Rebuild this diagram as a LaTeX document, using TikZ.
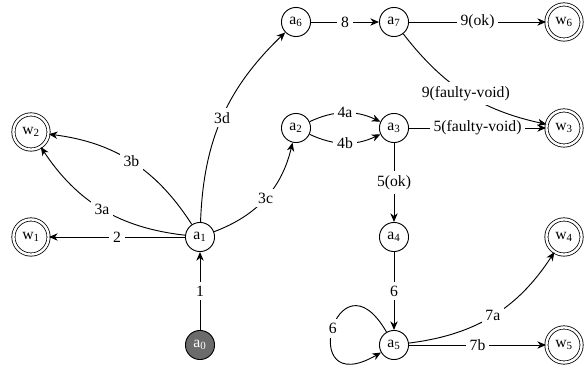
\documentclass[tikz,border=0pt]{standalone}
\usepackage{fontspec}
\setmainfont{Liberation Serif}
\usetikzlibrary{arrows.meta}

\begin{document}
\begin{tikzpicture}[every node/.style={font=\fontsize{11.8}{14}\selectfont},
  >={Stealth[length=6.5pt,width=5.5pt,inset=2pt]},
  line width=.7pt,
  st/.style={circle,draw,line width=.7pt,minimum size=.77cm,inner sep=0pt},
  start/.style={st,fill=black!58,text=white},
  goal/.style={circle,draw,double,double distance=1.8pt,line width=.6pt,minimum size=.93cm,inner sep=0pt},
  lbl/.style={fill=white,inner sep=3pt}]
\useasboundingbox (-5.2917,-0.5821) rectangle (10.2129,9.1281);
% states
\node[start] (a0) at (0.0000,0.0000) {a\textsubscript{0}};
\node[st] (a1) at (0.0000,2.8575) {a\textsubscript{1}};
\node[st] (a2) at (2.5400,5.7415) {a\textsubscript{2}};
\node[st] (a3) at (5.1329,5.7415) {a\textsubscript{3}};
\node[st] (a4) at (5.1329,2.8575) {a\textsubscript{4}};
\node[st] (a5) at (5.1329,0.0000) {a\textsubscript{5}};
\node[st] (a6) at (2.5400,8.5460) {a\textsubscript{6}};
\node[st] (a7) at (5.1329,8.5460) {a\textsubscript{7}};
% final states
\node[goal] (w1) at (-4.4715,2.8575) {w\textsubscript{1}};
\node[goal] (w2) at (-4.4715,5.6356) {w\textsubscript{2}};
\node[goal] (w3) at (9.6308,5.7415) {w\textsubscript{3}};
\node[goal] (w4) at (9.6308,2.8575) {w\textsubscript{4}};
\node[goal] (w5) at (9.6308,0.0000) {w\textsubscript{5}};
\node[goal] (w6) at (9.6308,8.5460) {w\textsubscript{6}};
% transitions
\draw[->] (a0) -- node[lbl] {1} (a1);
\draw[->] (a1) -- node[lbl] {2} (w1);
\draw[->] (a1) to[bend left=25] node[lbl] {3a} (w2);
\draw[->] (a1) to[bend right=25] node[lbl] {3b} (w2);
\draw[->] (a1) to[bend right=28] node[lbl] {3c} (a2);
\draw[->] (a1) to[bend left=22] node[lbl] {3d} (a6);
\draw[->] (a2) to[bend left=25] node[lbl] {4a} (a3);
\draw[->] (a2) to[bend right=25] node[lbl] {4b} (a3);
\draw[->] (a3) -- node[lbl] {5(faulty-void)} (w3);
\draw[->] (a3) -- node[lbl] {5(ok)} (a4);
\draw[->] (a4) -- node[lbl] {6} (a5);
\draw[->] (a5) to[out=120,in=210,looseness=12] node[lbl] {6} (a5);
\draw[->] (a5) to[bend right=25] node[lbl] {7a} (w4);
\draw[->] (a5) -- node[lbl] {7b} (w5);
\draw[->] (a6) -- node[lbl] {8} (a7);
\draw[->] (a7) -- node[lbl] {9(ok)} (w6);
\draw[->] (a7) to[bend right=20] node[lbl] {9(faulty-void)} (w3);
\end{tikzpicture}
\end{document}
